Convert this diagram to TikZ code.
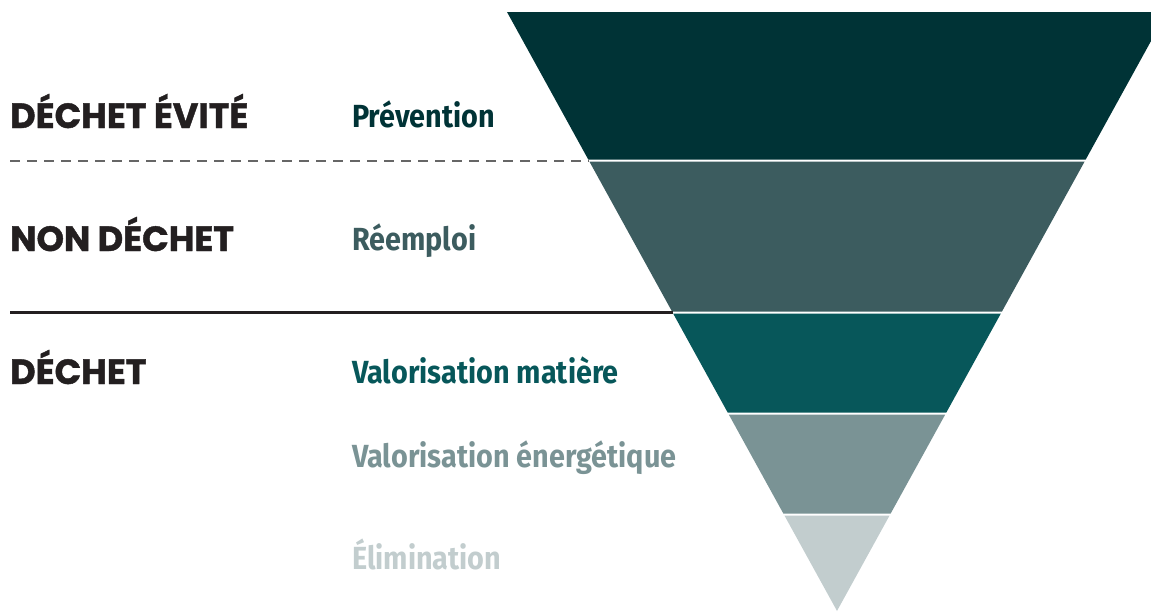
\documentclass[tikz,border=0pt]{standalone}
\usepackage{fontspec}
\usetikzlibrary{positioning}
\newfontfamily\headfont{Poppins}[BoldFeatures={FakeBold=1.2}]
\newfontfamily\stagefont{Fira Sans}[FakeStretch=0.9]
\definecolor{ink}{HTML}{231F20}
\definecolor{bandA}{HTML}{003336}
\definecolor{bandB}{HTML}{3C5C5F}
\definecolor{bandC}{HTML}{07575A}
\definecolor{bandD}{HTML}{7A9395}
\definecolor{bandE}{HTML}{C2CDCE}

\begin{document}
\begin{tikzpicture}[x=1pt,y=-1pt]
	\tikzstyle{level}=[font=\headfont\bfseries\fontsize{35}{35}\selectfont,anchor=base west,inner sep=0,text=ink]
	\tikzstyle{stage}=[font=\stagefont\bfseries\fontsize{32}{32}\selectfont,anchor=base west,inner sep=0]

	\useasboundingbox (0,0) rectangle (1151,611);
	\clip (0,0) rectangle (1151,611);

	% funnel, one band per stage (gaps give the white lines)
	\foreach \ya/\yb/\c in {12/159.5/bandA,161.5/311.5/bandB,313.5/412.5/bandC,414.5/513.5/bandD,515.5/611/bandE}
		\fill[\c] ({507+0.551*(\ya-12)},\ya) -- ({1167-0.551*(\ya-12)},\ya)
			-- ({1167-0.551*(\yb-12)},\yb) -- ({507+0.551*(\yb-12)},\yb) -- cycle;

	% separators
	\coordinate (dashL) at (10,161);
	\coordinate (dashR) at (589,161);
	\coordinate (lineL) at (10,312.5);
	\coordinate (lineR) at (673,312.5);
	\draw[gray!80!black,line width=1.5pt,dash pattern=on 10pt off 7pt] (dashL) -- (dashR);
	\draw[ink,line width=2.5pt] (lineL) -- (lineR);

	% left column
	\node[level] (avoided) at (10,128) {DÉCHET ÉVITÉ};
	\node[level] (nonwaste) at (10,251) {NON DÉCHET};
	\node[level] (waste) at (10,384) {DÉCHET};

	% right column
	\node[stage,text=bandA] (prevention) at (352,127) {Prévention};
	\node[stage,text=bandB] (reuse) at (352,250) {Réemploi};
	\node[stage,text=bandC] (material) at (352,383) {Valorisation matière};
	\node[stage,text=bandD] (energy) at (352,467) {Valorisation énergétique};
	\node[stage,text=bandE] (elimination) at (352,569) {Élimination};
\end{tikzpicture}
\end{document}
